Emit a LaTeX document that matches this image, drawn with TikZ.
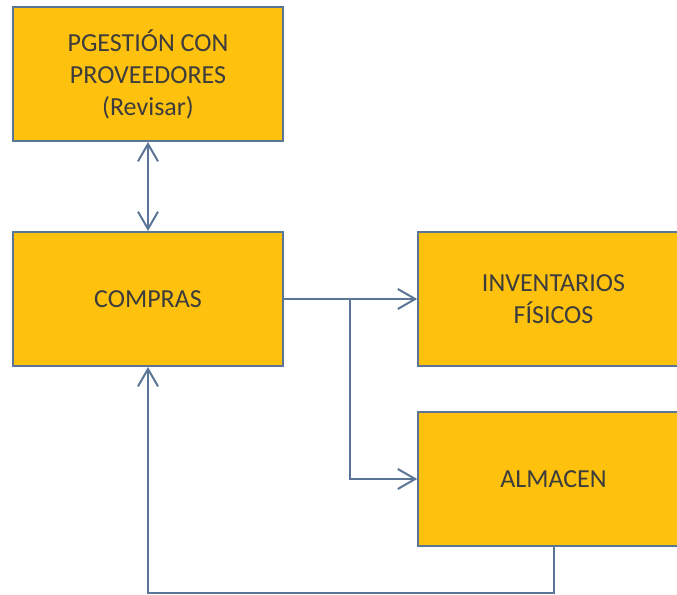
\documentclass[tikz,border=0pt]{standalone}
\usepackage{fontspec}
\setmainfont{Carlito}
\usetikzlibrary{arrows.meta}
\definecolor{oro}{HTML}{FEC10E}
\definecolor{borde}{HTML}{5B7596}
\definecolor{texto}{HTML}{3C3C3C}
\tikzset{caja/.style={rectangle, draw=borde, fill=oro, line width=1.5pt,
   minimum width=203pt, minimum height=100.5pt, inner sep=0pt,
   text=texto, align=center,
   font=\fontsize{19.5}{24}\selectfont}}
\tikzset{flecha/.style={draw=borde, line width=1.5pt,
   -{Straight Barb[length=13pt, width=15pt, line width=1.5pt]}}}

\begin{document}
\begin{tikzpicture}[x=0.75pt, y=-0.75pt]

    \useasboundingbox (0,0) rectangle (677,595);

    \node[caja] (gest) at (148,74)    {PGESTIÓN CON\\PROVEEDORES\\(Revisar)};
    \node[caja] (comp) at (148,299)   {COMPRAS};
    \node[caja] (inv)  at (553.5,299) {INVENTARIOS\\FÍSICOS};
    \node[caja] (alm)  at (553.5,479) {ALMACEN};

    \coordinate (rama) at (350,299);
    \coordinate (abajo) at (553.5,593);

    \draw[flecha, {Straight Barb[length=13pt, width=15pt, line width=1.5pt]}-{Straight Barb[length=13pt, width=15pt, line width=1.5pt]}] (gest.south) -- (comp.north);
    \draw[flecha] (comp.east) -- (inv.west);
    \draw[flecha] (rama) |- (alm.west);
    \draw[flecha] (alm.south) -- (abajo) -| (comp.south);

  \end{tikzpicture}
\end{document}
